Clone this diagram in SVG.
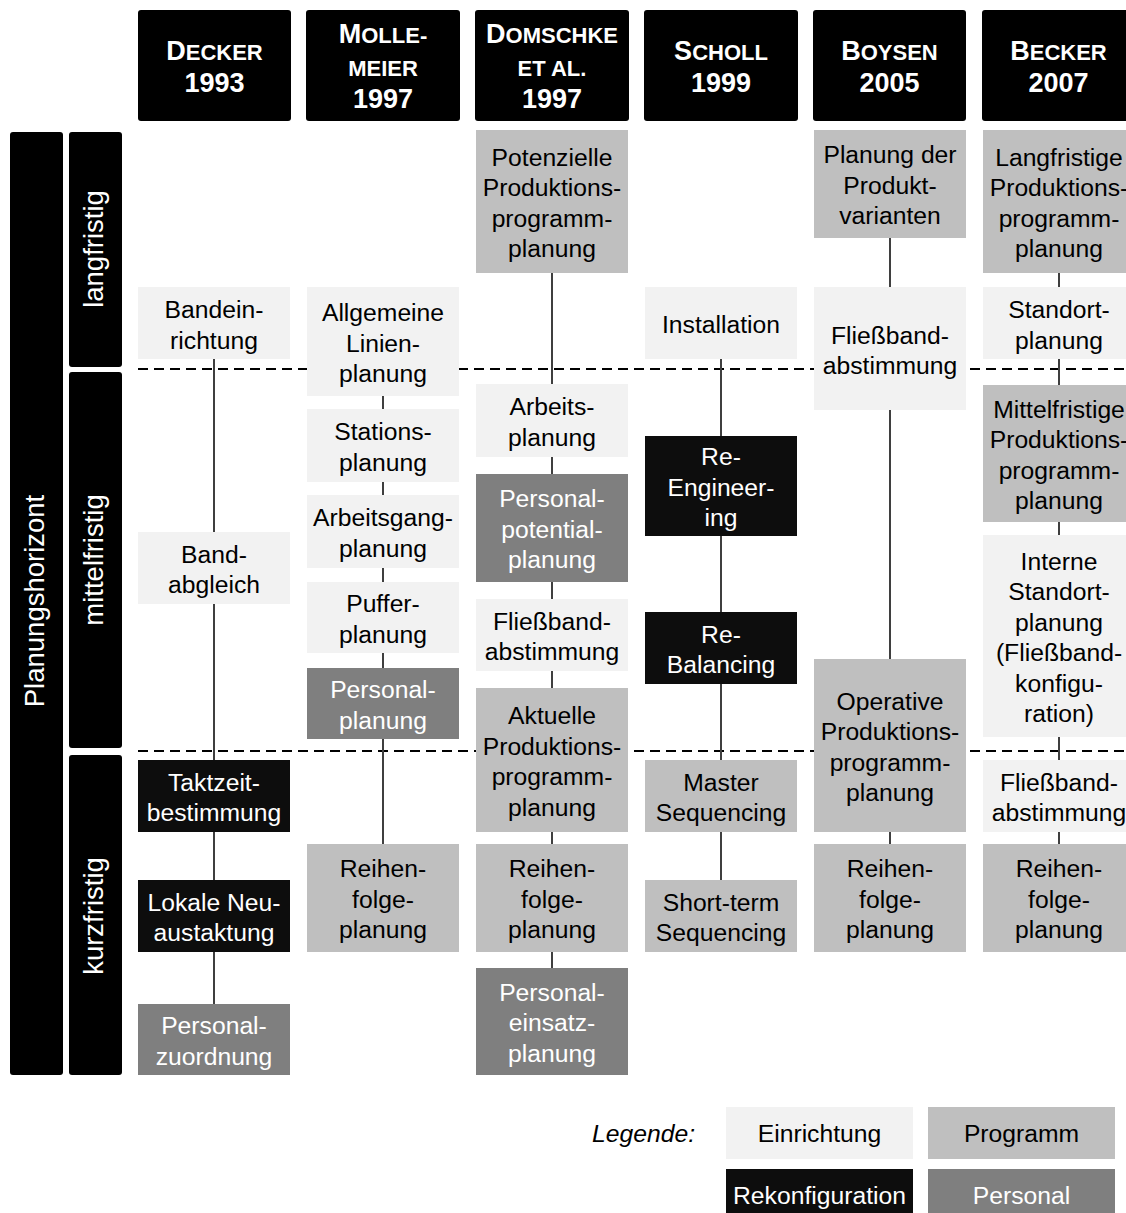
<svg xmlns="http://www.w3.org/2000/svg" width="1126" height="1213" viewBox="0 0 1126 1213">
  <style>
    text { font-family: "Liberation Sans", Arial, sans-serif; }
    .hd { fill: #000; }
    .hdt { fill: #fff; font-weight: bold; text-anchor: middle; }
    .big { font-size: 27px; }
    .sm { font-size: 22px; }
    .bar { fill: #000; }
    .vt { fill: #fff; font-size: 27.5px; text-anchor: middle; }
    .E { fill: #f2f2f2; }
    .G { fill: #bfbfbf; }
    .R { fill: #0d0d0d; }
    .P { fill: #7f7f7f; }
    .t { font-size: 24.7px; text-anchor: middle; fill: #000; }
    .tw { font-size: 24.7px; text-anchor: middle; fill: #fff; }
    .dash { stroke: #000; stroke-width: 2; stroke-dasharray: 10 6; fill: none; }
    .con { stroke: #3f3f3f; stroke-width: 2; fill: none; }
  </style>

  <!-- column headers -->
  <g id="hdr-decker">
    <rect class="hd" x="138" y="10" width="153" height="111" rx="3"/>
    <text class="hdt" x="214.5" y="60"><tspan class="big">D</tspan><tspan class="sm">ECKER</tspan></text>
    <text class="hdt big" x="214.5" y="92">1993</text>
  </g>
  <g id="hdr-mollemeier">
    <rect class="hd" x="306" y="10" width="154" height="111" rx="3"/>
    <text class="hdt" x="383" y="43"><tspan class="big">M</tspan><tspan class="sm">OLLE-</tspan></text>
    <text class="hdt sm" x="383" y="76">MEIER</text>
    <text class="hdt big" x="383" y="108">1997</text>
  </g>
  <g id="hdr-domschke">
    <rect class="hd" x="475" y="10" width="154" height="111" rx="3"/>
    <text class="hdt" x="552" y="43"><tspan class="big">D</tspan><tspan class="sm">OMSCHKE</tspan></text>
    <text class="hdt sm" x="552" y="76">ET AL.</text>
    <text class="hdt big" x="552" y="108">1997</text>
  </g>
  <g id="hdr-scholl">
    <rect class="hd" x="644" y="10" width="154" height="111" rx="3"/>
    <text class="hdt" x="721" y="60"><tspan class="big">S</tspan><tspan class="sm">CHOLL</tspan></text>
    <text class="hdt big" x="721" y="92">1999</text>
  </g>
  <g id="hdr-boysen">
    <rect class="hd" x="813" y="10" width="153" height="111" rx="3"/>
    <text class="hdt" x="889.5" y="60"><tspan class="big">B</tspan><tspan class="sm">OYSEN</tspan></text>
    <text class="hdt big" x="889.5" y="92">2005</text>
  </g>
  <g id="hdr-becker">
    <rect class="hd" x="982" y="10" width="153" height="111" rx="3"/>
    <text class="hdt" x="1058.5" y="60"><tspan class="big">B</tspan><tspan class="sm">ECKER</tspan></text>
    <text class="hdt big" x="1058.5" y="92">2007</text>
  </g>

  <!-- planning horizon bars -->
  <g id="axis-horizont">
    <rect class="bar" x="10" y="132" width="53" height="943" rx="3"/>
    <text class="vt" transform="translate(44,601) rotate(-90)">Planungshorizont</text>
  </g>
  <g id="axis-lang">
    <rect class="bar" x="69" y="132" width="53" height="235" rx="3"/>
    <text class="vt" transform="translate(103,249) rotate(-90)">langfristig</text>
  </g>
  <g id="axis-mittel">
    <rect class="bar" x="69" y="372" width="53" height="376" rx="3"/>
    <text class="vt" transform="translate(103,560) rotate(-90)">mittelfristig</text>
  </g>
  <g id="axis-kurz">
    <rect class="bar" x="69" y="755" width="53" height="320" rx="3"/>
    <text class="vt" transform="translate(103,916) rotate(-90)">kurzfristig</text>
  </g>

  <!-- horizon boundaries -->
  <g id="boundaries">
    <line class="dash" x1="138" y1="369" x2="1126" y2="369"/>
    <line class="dash" x1="138" y1="751" x2="1126" y2="751"/>
  </g>

  <!-- connectors -->
  <g id="connectors">
    <line class="con" x1="214" y1="359" x2="214" y2="532"/>
    <line class="con" x1="214" y1="604" x2="214" y2="760"/>
    <line class="con" x1="214" y1="832" x2="214" y2="880"/>
    <line class="con" x1="214" y1="952" x2="214" y2="1004"/>

    <line class="con" x1="383" y1="396" x2="383" y2="409"/>
    <line class="con" x1="383" y1="482" x2="383" y2="495"/>
    <line class="con" x1="383" y1="568" x2="383" y2="582"/>
    <line class="con" x1="383" y1="653" x2="383" y2="668"/>
    <line class="con" x1="383" y1="739" x2="383" y2="844"/>

    <line class="con" x1="552" y1="273" x2="552" y2="384"/>
    <line class="con" x1="552" y1="457" x2="552" y2="474"/>
    <line class="con" x1="552" y1="582" x2="552" y2="599"/>
    <line class="con" x1="552" y1="671" x2="552" y2="688"/>
    <line class="con" x1="552" y1="832" x2="552" y2="844"/>
    <line class="con" x1="552" y1="952" x2="552" y2="968"/>

    <line class="con" x1="721" y1="359" x2="721" y2="436"/>
    <line class="con" x1="721" y1="536" x2="721" y2="612"/>
    <line class="con" x1="721" y1="684" x2="721" y2="760"/>
    <line class="con" x1="721" y1="832" x2="721" y2="880"/>

    <line class="con" x1="890" y1="238" x2="890" y2="287"/>
    <line class="con" x1="890" y1="410" x2="890" y2="659"/>
    <line class="con" x1="890" y1="832" x2="890" y2="844"/>

    <line class="con" x1="1059" y1="273" x2="1059" y2="287"/>
    <line class="con" x1="1059" y1="359" x2="1059" y2="385"/>
    <line class="con" x1="1059" y1="522" x2="1059" y2="535"/>
    <line class="con" x1="1059" y1="737" x2="1059" y2="760"/>
    <line class="con" x1="1059" y1="832" x2="1059" y2="844"/>
  </g>

  <!-- Decker 1993 -->
  <g id="n-bandeinrichtung">
    <rect class="E" x="138" y="287" width="152" height="72"/>
    <text class="t" x="214" y="318">Bandein-</text>
    <text class="t" x="214" y="348.5">richtung</text>
  </g>
  <g id="n-bandabgleich">
    <rect class="E" x="138" y="532" width="152" height="72"/>
    <text class="t" x="214" y="562.5">Band-</text>
    <text class="t" x="214" y="593">abgleich</text>
  </g>
  <g id="n-taktzeit">
    <rect class="R" x="138" y="760" width="152" height="72"/>
    <text class="tw" x="214" y="790.5">Taktzeit-</text>
    <text class="tw" x="214" y="821">bestimmung</text>
  </g>
  <g id="n-neuaustaktung">
    <rect class="R" x="138" y="880" width="152" height="72"/>
    <text class="tw" x="214" y="910.5">Lokale Neu-</text>
    <text class="tw" x="214" y="941">austaktung</text>
  </g>
  <g id="n-personalzuordnung">
    <rect class="P" x="138" y="1004" width="152" height="71"/>
    <text class="tw" x="214" y="1034">Personal-</text>
    <text class="tw" x="214" y="1064.5">zuordnung</text>
  </g>

  <!-- Mollemeier 1997 -->
  <g id="n-linienplanung">
    <rect class="E" x="307" y="287" width="152" height="109"/>
    <text class="t" x="383" y="321">Allgemeine</text>
    <text class="t" x="383" y="351.5">Linien-</text>
    <text class="t" x="383" y="382">planung</text>
  </g>
  <g id="n-stationsplanung">
    <rect class="E" x="307" y="409" width="152" height="73"/>
    <text class="t" x="383" y="440">Stations-</text>
    <text class="t" x="383" y="470.5">planung</text>
  </g>
  <g id="n-arbeitsgangplanung">
    <rect class="E" x="307" y="495" width="152" height="73"/>
    <text class="t" x="383" y="526">Arbeitsgang-</text>
    <text class="t" x="383" y="556.5">planung</text>
  </g>
  <g id="n-pufferplanung">
    <rect class="E" x="307" y="582" width="152" height="71"/>
    <text class="t" x="383" y="612">Puffer-</text>
    <text class="t" x="383" y="642.5">planung</text>
  </g>
  <g id="n-personalplanung">
    <rect class="P" x="307" y="668" width="152" height="71"/>
    <text class="tw" x="383" y="698">Personal-</text>
    <text class="tw" x="383" y="728.5">planung</text>
  </g>
  <g id="n-reihenfolge-molle">
    <rect class="G" x="307" y="844" width="152" height="108"/>
    <text class="t" x="383" y="877">Reihen-</text>
    <text class="t" x="383" y="907.5">folge-</text>
    <text class="t" x="383" y="938">planung</text>
  </g>

  <!-- Domschke et al. 1997 -->
  <g id="n-potenzielle-pp">
    <rect class="G" x="476" y="130" width="152" height="143"/>
    <text class="t" x="552" y="165.5">Potenzielle</text>
    <text class="t" x="552" y="196">Produktions-</text>
    <text class="t" x="552" y="226.5">programm-</text>
    <text class="t" x="552" y="257">planung</text>
  </g>
  <g id="n-arbeitsplanung">
    <rect class="E" x="476" y="384" width="152" height="73"/>
    <text class="t" x="552" y="415">Arbeits-</text>
    <text class="t" x="552" y="445.5">planung</text>
  </g>
  <g id="n-personalpotential">
    <rect class="P" x="476" y="474" width="152" height="108"/>
    <text class="tw" x="552" y="507">Personal-</text>
    <text class="tw" x="552" y="537.5">potential-</text>
    <text class="tw" x="552" y="568">planung</text>
  </g>
  <g id="n-fliessband-domschke">
    <rect class="E" x="476" y="599" width="152" height="72"/>
    <text class="t" x="552" y="629.5">Fließband-</text>
    <text class="t" x="552" y="660">abstimmung</text>
  </g>
  <g id="n-aktuelle-pp">
    <rect class="G" x="476" y="688" width="152" height="144"/>
    <text class="t" x="552" y="724">Aktuelle</text>
    <text class="t" x="552" y="754.5">Produktions-</text>
    <text class="t" x="552" y="785">programm-</text>
    <text class="t" x="552" y="815.5">planung</text>
  </g>
  <g id="n-reihenfolge-domschke">
    <rect class="G" x="476" y="844" width="152" height="108"/>
    <text class="t" x="552" y="877">Reihen-</text>
    <text class="t" x="552" y="907.5">folge-</text>
    <text class="t" x="552" y="938">planung</text>
  </g>
  <g id="n-personaleinsatz">
    <rect class="P" x="476" y="968" width="152" height="107"/>
    <text class="tw" x="552" y="1000.5">Personal-</text>
    <text class="tw" x="552" y="1031">einsatz-</text>
    <text class="tw" x="552" y="1061.5">planung</text>
  </g>

  <!-- Scholl 1999 -->
  <g id="n-installation">
    <rect class="E" x="645" y="287" width="152" height="72"/>
    <text class="t" x="721" y="332.5">Installation</text>
  </g>
  <g id="n-reengineering">
    <rect class="R" x="645" y="436" width="152" height="100"/>
    <text class="tw" x="721" y="465">Re-</text>
    <text class="tw" x="721" y="495.5">Engineer-</text>
    <text class="tw" x="721" y="526">ing</text>
  </g>
  <g id="n-rebalancing">
    <rect class="R" x="645" y="612" width="152" height="72"/>
    <text class="tw" x="721" y="642.5">Re-</text>
    <text class="tw" x="721" y="673">Balancing</text>
  </g>
  <g id="n-master-seq">
    <rect class="G" x="645" y="760" width="152" height="72"/>
    <text class="t" x="721" y="790.5">Master</text>
    <text class="t" x="721" y="821">Sequencing</text>
  </g>
  <g id="n-shortterm-seq">
    <rect class="G" x="645" y="880" width="152" height="72"/>
    <text class="t" x="721" y="910.5">Short-term</text>
    <text class="t" x="721" y="941">Sequencing</text>
  </g>

  <!-- Boysen 2005 -->
  <g id="n-produktvarianten">
    <rect class="G" x="814" y="130" width="152" height="108"/>
    <text class="t" x="890" y="163">Planung der</text>
    <text class="t" x="890" y="193.5">Produkt-</text>
    <text class="t" x="890" y="224">varianten</text>
  </g>
  <g id="n-fliessband-boysen">
    <rect class="E" x="814" y="287" width="152" height="123"/>
    <text class="t" x="890" y="343.5">Fließband-</text>
    <text class="t" x="890" y="374">abstimmung</text>
  </g>
  <g id="n-operative-pp">
    <rect class="G" x="814" y="659" width="152" height="173"/>
    <text class="t" x="890" y="709.5">Operative</text>
    <text class="t" x="890" y="740">Produktions-</text>
    <text class="t" x="890" y="770.5">programm-</text>
    <text class="t" x="890" y="801">planung</text>
  </g>
  <g id="n-reihenfolge-boysen">
    <rect class="G" x="814" y="844" width="152" height="108"/>
    <text class="t" x="890" y="877">Reihen-</text>
    <text class="t" x="890" y="907.5">folge-</text>
    <text class="t" x="890" y="938">planung</text>
  </g>

  <!-- Becker 2007 -->
  <g id="n-langfristige-pp">
    <rect class="G" x="983" y="130" width="152" height="143"/>
    <text class="t" x="1059" y="165.5">Langfristige</text>
    <text class="t" x="1059" y="196">Produktions-</text>
    <text class="t" x="1059" y="226.5">programm-</text>
    <text class="t" x="1059" y="257">planung</text>
  </g>
  <g id="n-standortplanung">
    <rect class="E" x="983" y="287" width="152" height="72"/>
    <text class="t" x="1059" y="318">Standort-</text>
    <text class="t" x="1059" y="348.5">planung</text>
  </g>
  <g id="n-mittelfristige-pp">
    <rect class="G" x="983" y="385" width="152" height="137"/>
    <text class="t" x="1059" y="417.5">Mittelfristige</text>
    <text class="t" x="1059" y="448">Produktions-</text>
    <text class="t" x="1059" y="478.5">programm-</text>
    <text class="t" x="1059" y="509">planung</text>
  </g>
  <g id="n-interne-standort">
    <rect class="E" x="983" y="535" width="152" height="202"/>
    <text class="t" x="1059" y="569.5">Interne</text>
    <text class="t" x="1059" y="600">Standort-</text>
    <text class="t" x="1059" y="630.5">planung</text>
    <text class="t" x="1059" y="661">(Fließband-</text>
    <text class="t" x="1059" y="691.5">konfigu-</text>
    <text class="t" x="1059" y="722">ration)</text>
  </g>
  <g id="n-fliessband-becker">
    <rect class="E" x="983" y="760" width="152" height="72"/>
    <text class="t" x="1059" y="790.5">Fließband-</text>
    <text class="t" x="1059" y="821">abstimmung</text>
  </g>
  <g id="n-reihenfolge-becker">
    <rect class="G" x="983" y="844" width="152" height="108"/>
    <text class="t" x="1059" y="877">Reihen-</text>
    <text class="t" x="1059" y="907.5">folge-</text>
    <text class="t" x="1059" y="938">planung</text>
  </g>

  <!-- legend -->
  <g id="legend">
    <text x="695" y="1142" font-size="24.7" font-style="italic" text-anchor="end" fill="#000">Legende:</text>
    <rect class="E" x="726" y="1107" width="187" height="52"/>
    <text class="t" x="819.5" y="1142">Einrichtung</text>
    <rect class="G" x="928" y="1107" width="187" height="52"/>
    <text class="t" x="1021.5" y="1142">Programm</text>
    <rect class="R" x="726" y="1169" width="187" height="52"/>
    <text class="tw" x="819.5" y="1204">Rekonfiguration</text>
    <rect class="P" x="928" y="1169" width="187" height="52"/>
    <text class="tw" x="1021.5" y="1204">Personal</text>
  </g>
</svg>
